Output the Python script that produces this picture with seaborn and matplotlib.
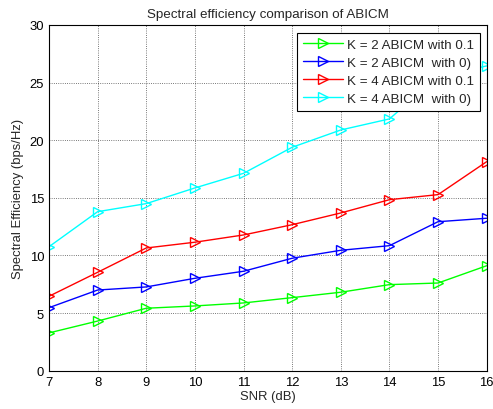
import matplotlib
matplotlib.use("Agg")
import matplotlib.pyplot as plt
import seaborn as sns
import pandas as pd

snr = [7, 8, 9, 10, 11, 12, 13, 14, 15, 16]
k2_01 = [3.28, 4.31, 5.42, 5.62, 5.88, 6.34, 6.81, 7.47, 7.61, 9.11]
k2_0 = [5.47, 7.00, 7.27, 8.02, 8.63, 9.76, 10.45, 10.85, 12.93, 13.23]
k4_01 = [6.46, 8.54, 10.65, 11.15, 11.78, 12.67, 13.69, 14.84, 15.28, 18.14]
k4_0 = [10.76, 13.80, 14.50, 15.86, 17.13, 19.39, 20.89, 21.85, 25.5, 26.45]
labels = ["K = 2 ABICM with 0.1", "K = 2 ABICM  with 0)",
          "K = 4 ABICM with 0.1", "K = 4 ABICM  with 0)"]
colors = ["#00ff00", "#0000ff", "#ff0000", "#00ffff"]
series = [k2_01, k2_0, k4_01, k4_0]

sns.set_style("white")
plt.rcParams["font.family"] = ["Liberation Sans", "DejaVu Sans"]
plt.rcParams["font.size"] = 9.4

fig = plt.figure(figsize=(4.93, 4.10), dpi=100)
ax = fig.add_axes([0.0994, 0.0934, 0.8878, 0.8432])

for lab, col, vals in zip(labels, colors, series):
    df = pd.DataFrame({"SNR": snr, "SE": vals})
    sns.lineplot(data=df, x="SNR", y="SE", ax=ax, color=col, label=lab,
                 marker=">", markersize=6.8, markerfacecolor="none",
                 markeredgecolor=col, markeredgewidth=1.0, linewidth=1.0)

ax.set_xlim(7, 16)
ax.set_ylim(0, 30)
ax.set_xticks(snr)
ax.set_yticks([0, 5, 10, 15, 20, 25, 30])
ax.grid(True, color="black", linestyle=":", linewidth=0.6, alpha=0.7)
ax.tick_params(direction="in", length=4, width=0.6, labelsize=9.4, colors="black")
for s in ax.spines.values():
    s.set_color("black")
    s.set_linewidth(0.8)
ax.set_xlabel("SNR (dB)", fontsize=9.4, labelpad=2)
ax.set_ylabel("Spectral Efficiency (bps/Hz)", fontsize=9.4, labelpad=4)
ax.set_title("Spectral efficiency comparison of ABICM", fontsize=9.6, pad=6)

leg = ax.legend(loc="upper right", bbox_to_anchor=(0.985, 0.978), fontsize=9.6,
                frameon=True, fancybox=False, edgecolor="black",
                framealpha=1, borderpad=0.45, handlelength=3.0,
                labelspacing=0.42, handletextpad=0.3, borderaxespad=0)
leg.get_frame().set_linewidth(0.8)

fig.savefig("out.png", dpi=100)
